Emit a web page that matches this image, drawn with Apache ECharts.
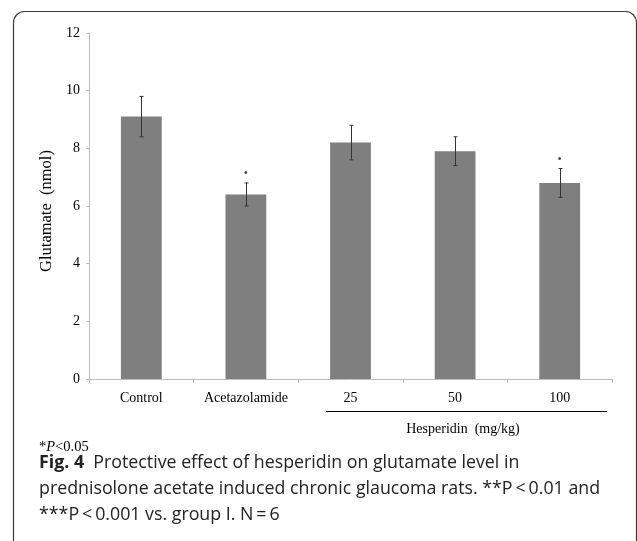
<!DOCTYPE html>
<html><head><meta charset="utf-8">
<script src="https://cdn.jsdelivr.net/npm/echarts@6/dist/echarts.min.js"></script>
<style>html,body{margin:0;padding:0;background:#fff}#c{width:637px;height:541px}</style>
</head><body><div id="c"></div>
<script>
const categories = ['Control', 'Acetazolamide', '25', '50', '100'];
const means = [9.1, 6.4, 8.2, 7.9, 6.8];
const errors = [0.7, 0.4, 0.6, 0.5, 0.5];
const significant = [false, true, false, false, true];
const yTicks = [0, 2, 4, 6, 8, 10, 12];

const chart = echarts.init(document.getElementById('c'));
const serif = '"Liberation Serif", "Times New Roman", serif';
const sans = '"Open Sans", "Noto Sans", sans-serif';

chart.setOption({
  animation: false,
  grid: { left: 89, right: 25, top: 33, bottom: 162, containLabel: false },
  xAxis: {
    type: 'category', data: categories,
    axisLine: { lineStyle: { color: '#bdbdbd', width: 1 } },
    axisTick: { show: true, length: 4, lineStyle: { color: '#bdbdbd' } },
    axisLabel: { interval: 0, color: '#000', fontFamily: serif, fontSize: 14, margin: 12 }
  },
  yAxis: {
    type: 'value', min: yTicks[0], max: yTicks[yTicks.length - 1], interval: 2,
    name: 'Glutamate  (nmol)', nameLocation: 'middle', nameGap: 31, nameRotate: 90,
    nameTextStyle: { color: '#000', fontFamily: serif, fontSize: 16.5, padding: [0, 10, 0, 0] },
    axisLine: { show: true, lineStyle: { color: '#bdbdbd' } },
    axisTick: { show: true, length: 3, lineStyle: { color: '#bdbdbd' } },
    splitLine: { show: false },
    axisLabel: { color: '#000', fontFamily: serif, fontSize: 14, margin: 9 }
  },
  series: [
    {
      type: 'bar', data: means, barWidth: '39%',
      itemStyle: { color: '#7f7f7f' }
    },
    {
      type: 'custom',
      data: means.map((m, i) => [i, m - errors[i], m + errors[i]]),
      renderItem: function (params, api) {
        const x = Math.round(api.coord([api.value(0), 0])[0]) + 0.5;
        const lo = api.coord([api.value(0), api.value(1)])[1];
        const hi = api.coord([api.value(0), api.value(2)])[1];
        const cap = 2;
        const st = { stroke: '#333', lineWidth: 1 };
        return {
          type: 'group', children: [
            { type: 'line', shape: { x1: x, y1: lo, x2: x, y2: hi }, style: st },
            { type: 'line', shape: { x1: x - cap, y1: hi, x2: x + cap, y2: hi }, style: st },
            { type: 'line', shape: { x1: x - cap, y1: lo, x2: x + cap, y2: lo }, style: st }
          ]
        };
      },
      z: 5
    },
    {
      type: 'scatter',
      data: means.map((m, i) => significant[i] ? [i, m + errors[i]] : null).filter(d => d),
      symbolSize: 0,
      label: { show: true, formatter: '•', position: 'top', distance: 3, color: '#111', fontSize: 12, fontFamily: serif },
      z: 6
    }
  ],
  graphic: [
    { type: 'rect', shape: { x: 13.5, y: 11.5, width: 623, height: 620, r: 11 },
      style: { fill: 'none', stroke: '#3a3a3a', lineWidth: 1.2 }, silent: true },
    { type: 'line', shape: { x1: 326, y1: 411.5, x2: 607, y2: 411.5 }, style: { stroke: '#000', lineWidth: 1.2 } },
    { type: 'text', x: 463, y: 429, style: { text: 'Hesperidin  (mg/kg)', fontFamily: serif, fontSize: 14, fill: '#000', align: 'center', verticalAlign: 'middle' } },
    { type: 'text', x: 39, y: 447, style: {
        text: '{a|*}{b|P}{a|<0.05}',
        rich: {
          a: { fontFamily: serif, fontSize: 14.5, fill: '#000' },
          b: { fontFamily: serif, fontSize: 14.5, fontStyle: 'italic', fill: '#000' }
        }, verticalAlign: 'middle' } },
    { type: 'text', x: 39, y: 450, style: {
        text: '{f|Fig. 4}{t|  Protective effect of hesperidin on glutamate level in}\n{t|prednisolone acetate induced chronic glaucoma rats. **P\u2009<\u20090.01 and}\n{t|***P\u2009<\u20090.001 vs. group I. N\u2009=\u20096}',
        rich: {
          f: { fontFamily: sans, fontSize: 17.8, fontWeight: 'bold', fill: '#222', lineHeight: 26 },
          t: { fontFamily: sans, fontSize: 17.8, fill: '#222', lineHeight: 26 }
        } } }
  ]
});
</script></body></html>
